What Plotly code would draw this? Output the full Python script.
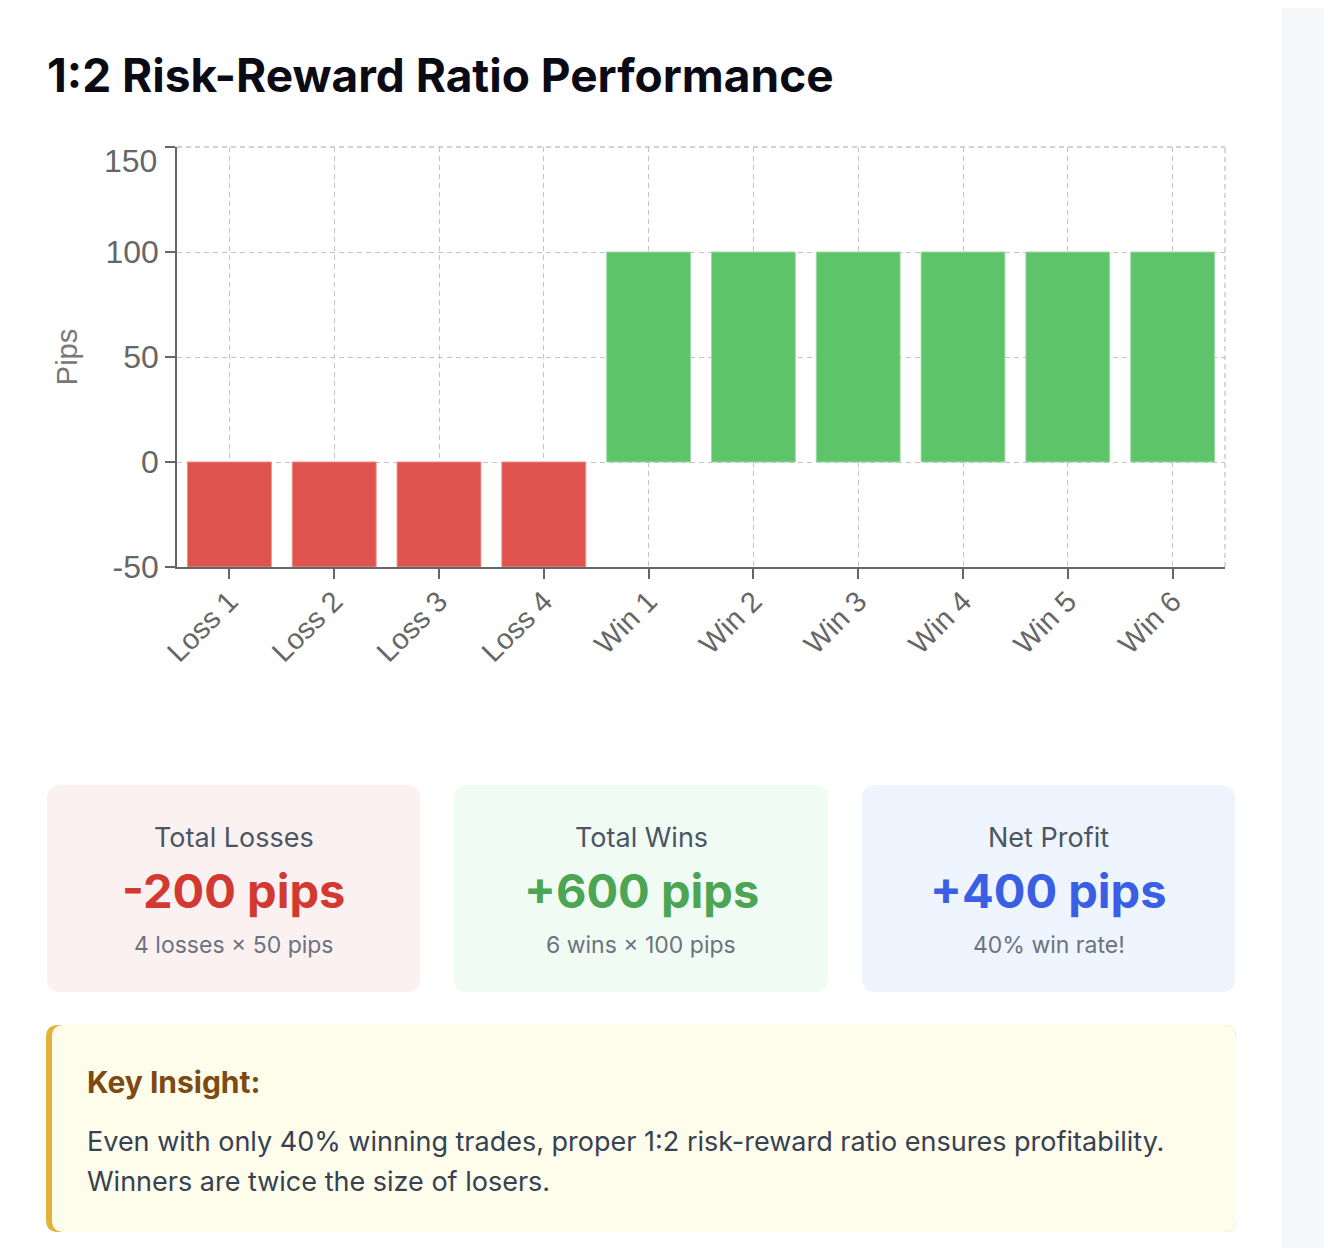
import plotly.graph_objects as go

# trade results in pips
trades = ['Loss 1', 'Loss 2', 'Loss 3', 'Loss 4', 'Win 1', 'Win 2', 'Win 3', 'Win 4', 'Win 5', 'Win 6']
pips = [-50, -50, -50, -50, 100, 100, 100, 100, 100, 100]
y_ticks = [-50, 0, 50, 100, 150]
y_tick_labels = ['-50', '0', '50', '100', '']   # top label is drawn a bit lower, as an annotation
top_label = '150'

# summary cards
card_labels = ['Total Losses', 'Total Wins', 'Net Profit']
card_values = ['-200 pips', '+600 pips', '+400 pips']
card_notes = ['4 losses × 50 pips', '6 wins × 100 pips', '40% win rate!']

OFF = 8                      # page margin around the plot div
W, H = 1332 - 2 * OFF, 1256 - 2 * OFF
L, R, T, B = 177, 1225, 147, 567   # plot area, screen pixels


def px(x):
    return (x - L) / (R - L)


def py(y):
    return (B - y) / (B - T)


def rounded(x0, y0, x1, y1, r):
    # rounded rect path in paper coords, built from screen pixel corners
    pts = [
        f"M{px(x0 + r)},{py(y0)}",
        f"L{px(x1 - r)},{py(y0)}",
        f"Q{px(x1)},{py(y0)} {px(x1)},{py(y0 + r)}",
        f"L{px(x1)},{py(y1 - r)}",
        f"Q{px(x1)},{py(y1)} {px(x1 - r)},{py(y1)}",
        f"L{px(x0 + r)},{py(y1)}",
        f"Q{px(x0)},{py(y1)} {px(x0)},{py(y1 - r)}",
        f"L{px(x0)},{py(y0 + r)}",
        f"Q{px(x0)},{py(y0)} {px(x0 + r)},{py(y0)}",
        "Z",
    ]
    return " ".join(pts)


bar_colors = ['#de534d' if v < 0 else '#5ec46a' for v in pips]
bar_lines = ['#ec8d88' if v < 0 else '#9ddba5' for v in pips]

fig = go.Figure()
fig.add_trace(go.Bar(
    x=trades,
    y=pips,
    width=0.8,
    marker=dict(color=bar_colors, line=dict(color=bar_lines, width=1)),
    hoverinfo='x+y',
))

axis_font = dict(family='Liberation Sans, Arial, sans-serif', size=32, color='#666666')
grid_col = '#c4c4c4'
grid_dash = '5px,4px'
grid = dict(showgrid=True, gridcolor=grid_col, griddash=grid_dash, gridwidth=1.3)

fig.update_layout(
    width=W,
    height=H,
    margin=dict(l=L - OFF, r=W - (R - OFF), t=T - OFF, b=H - (B - OFF), autoexpand=False),
    paper_bgcolor='white',
    plot_bgcolor='white',
    showlegend=False,
    xaxis=dict(
        showline=True, linecolor='#666666', linewidth=1.5,
        ticks='outside', ticklen=10, tickcolor='#666666', tickwidth=1.5,
        tickangle=-45, tickfont=dict(axis_font, size=29), ticklabelstandoff=-6, **grid,
    ),
    yaxis=dict(
        range=[-50, 150], tickvals=y_ticks, ticktext=y_tick_labels, zeroline=False,
        showline=True, linecolor='#666666', linewidth=1.5,
        ticks='outside', ticklen=10, tickcolor='#666666', tickwidth=1.5,
        tickfont=axis_font, ticklabelstandoff=0, **grid,
        title=dict(text='Pips', font=dict(family='Liberation Sans, Arial, sans-serif', size=29, color='#777777'), standoff=19),
    ),
)

shapes = []
annotations = []

# grey strip on the right of the page
shapes.append(dict(type='rect', xref='paper', yref='paper', x0=px(1283), x1=px(1340), y0=py(1260), y1=py(0),
                   fillcolor='#f6f7f9', line=dict(width=0), layer='below'))
shapes.append(dict(type='line', xref='paper', yref='paper', x0=px(1283), x1=px(1283), y0=py(1260), y1=py(0),
                   line=dict(color='#eceef1', width=1), layer='below'))
# dashed top and right edges of grid
shapes.append(dict(type='line', xref='paper', yref='paper', x0=1, x1=1, y0=0, y1=1,
                   line=dict(color=grid_col, width=1.3, dash=grid_dash)))
shapes.append(dict(type='line', xref='paper', yref='paper', x0=0, x1=1, y0=1, y1=1,
                   line=dict(color=grid_col, width=1.3, dash=grid_dash)))

# top y tick label
annotations.append(dict(text=top_label, xref='paper', yref='paper', x=px(159), y=py(161),
                        xanchor='right', yanchor='middle', showarrow=False, font=axis_font))

# title
annotations.append(dict(text='<b>1:2 Risk-Reward Ratio Performance</b>', xref='paper', yref='paper',
                        x=px(45), y=py(75), xanchor='left', yanchor='middle', showarrow=False,
                        font=dict(family='Inter, sans-serif', size=46, color='#0b0b16')))

# summary cards
card_x = [(47, 420), (454, 828), (862, 1235)]
card_bg = ['#fcf1f1', '#f0fcf3', '#eef5fe']
value_colors = ['#d23a31', '#4ba553', '#3a5fe4']
for (x0, x1), bg, lab, val, note, vc in zip(card_x, card_bg, card_labels, card_values, card_notes, value_colors):
    shapes.append(dict(type='path', xref='paper', yref='paper', path=rounded(x0, 785, x1, 992, 14),
                       fillcolor=bg, line=dict(width=0), layer='below'))
    cx = px((x0 + x1) / 2)
    annotations.append(dict(text=lab, xref='paper', yref='paper', x=cx, y=py(837), xanchor='center', yanchor='middle',
                            showarrow=False, font=dict(family='Inter, sans-serif', size=27, color='#4b5563')))
    annotations.append(dict(text=f'<b>{val}</b>', xref='paper', yref='paper', x=cx, y=py(890), xanchor='center', yanchor='middle',
                            showarrow=False, font=dict(family='Inter, sans-serif', size=47, color=vc)))
    annotations.append(dict(text=note, xref='paper', yref='paper', x=cx, y=py(945), xanchor='center', yanchor='middle',
                            showarrow=False, font=dict(family='Inter, sans-serif', size=23, color='#6b7280')))

# key insight box
shapes.append(dict(type='path', xref='paper', yref='paper', path=rounded(46, 1025, 1236, 1232, 12),
                   fillcolor='#e2b23c', line=dict(width=0), layer='below'))
shapes.append(dict(type='path', xref='paper', yref='paper', path=rounded(52, 1025, 1236, 1232, 12),
                   fillcolor='#fefcea', line=dict(width=0), layer='below'))
annotations.append(dict(text='<b>Key Insight:</b>', xref='paper', yref='paper', x=px(85), y=py(1082),
                        xanchor='left', yanchor='middle', showarrow=False,
                        font=dict(family='Inter, sans-serif', size=30, color='#7d4a12')))
annotations.append(dict(text='Even with only 40% winning trades, proper 1:2 risk-reward ratio ensures profitability.',
                        xref='paper', yref='paper', x=px(85), y=py(1141), xanchor='left', yanchor='middle',
                        showarrow=False, font=dict(family='Inter, sans-serif', size=27, color='#374151')))
annotations.append(dict(text='Winners are twice the size of losers.',
                        xref='paper', yref='paper', x=px(85), y=py(1181), xanchor='left', yanchor='middle',
                        showarrow=False, font=dict(family='Inter, sans-serif', size=27, color='#374151')))

fig.update_layout(shapes=shapes, annotations=annotations)

fig.write_html('out.html')
